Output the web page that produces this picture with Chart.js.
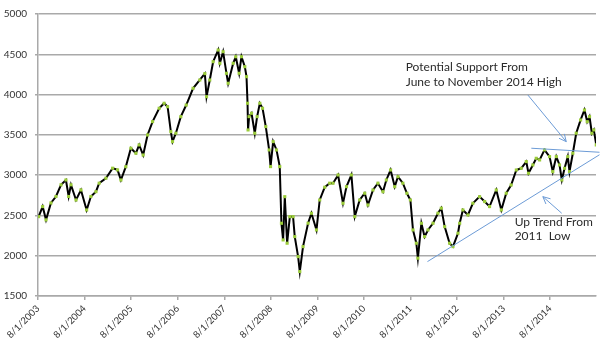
<!DOCTYPE html>
<html>
<head>
<meta charset="utf-8">
<script src="https://cdn.jsdelivr.net/npm/chart.js@4"></script>
<style>
  html, body { margin: 0; padding: 0; background: #fff; }
  #wrap { width: 600px; height: 364px; }
</style>
</head>
<body>
<div id="wrap"><canvas id="myChart" width="600" height="364"></canvas></div>
<script>
// closing prices
const dates = [
  '2003-08-06','2003-09-07','2003-10-03','2003-11-11','2003-12-20','2004-01-29','2004-03-07','2004-03-28',
  '2004-04-16','2004-05-25','2004-07-03','2004-08-17','2004-09-20','2004-10-29','2004-11-24','2005-01-16',
  '2005-03-08','2005-04-16','2005-05-12','2005-06-20','2005-07-29','2005-09-08','2005-10-03','2005-11-04',
  '2005-12-08','2006-01-17','2006-03-08','2006-04-16','2006-05-13','2006-06-08','2006-06-21','2006-07-17',
  '2006-08-25','2006-10-07','2006-11-30','2007-01-22','2007-03-01','2007-03-14','2007-04-09','2007-05-05',
  '2007-06-14','2007-06-27','2007-07-22','2007-08-18','2007-09-01','2007-10-10','2007-10-30','2007-11-26',
  '2007-12-14','2008-01-10','2008-01-23','2008-01-31','2008-02-05','2008-02-13','2008-03-02','2008-03-27',
  '2008-04-15','2008-05-06','2008-05-27','2008-06-22','2008-07-18','2008-07-29','2008-08-19','2008-09-15',
  '2008-10-10','2008-10-23','2008-11-06','2008-11-19','2008-12-07','2008-12-28','2009-01-23','2009-02-06',
  '2009-03-02','2009-03-15','2009-04-10','2009-05-19','2009-06-15','2009-07-24','2009-08-19','2009-09-28',
  '2009-11-06','2009-12-02','2010-01-11','2010-02-19','2010-03-16','2010-04-24','2010-05-20','2010-06-28',
  '2010-08-07','2010-09-02','2010-10-11','2010-11-19','2010-12-28','2011-01-24','2011-02-27','2011-03-29',
  '2011-04-24','2011-06-02','2011-07-03','2011-07-30','2011-08-20','2011-09-16','2011-09-28','2011-10-25',
  '2011-11-20','2011-12-16','2012-01-25','2012-03-03','2012-03-29','2012-04-25','2012-06-03','2012-06-29',
  '2012-08-08','2012-08-21','2012-09-16','2012-10-25','2012-12-03','2013-01-25','2013-03-04','2013-04-12',
  '2013-06-04','2013-07-13','2013-08-21','2013-09-29','2013-11-09','2013-12-17','2014-01-26','2014-02-13',
  '2014-03-17','2014-04-13','2014-05-09','2014-06-17','2014-07-26','2014-08-21','2014-09-18','2014-10-13',
  '2014-11-01','2014-11-22','2014-12-17','2014-12-30','2015-01-26','2015-02-22','2015-03-26','2015-04-26',
  '2015-05-17','2015-06-05','2015-06-23','2015-07-08','2015-07-27'
];
const closes = [
  2485,2610,2445,2655,2735,2880,2940,2735,
  2880,2692,2816,2568,2735,2795,2900,2962,
  3086,3065,2940,3105,3334,3272,3375,3250,
  3499,3664,3830,3892,3850,3540,3416,3520,
  3726,3870,4078,4181,4260,3974,4181,4408,
  4553,4388,4532,4264,4140,4388,4470,4264,
  4470,4346,4222,3892,3561,3726,3768,3520,
  3726,3892,3830,3602,3313,3106,3416,3313,
  3106,2403,2196,2733,2155,2485,2485,2237,
  1989,1803,2113,2403,2527,2320,2692,2850,
  2900,2900,3002,2651,2857,3002,2485,2692,
  2775,2630,2816,2900,2795,2940,3064,2857,
  2981,2900,2775,2692,2320,2155,1969,2403,
  2237,2320,2403,2527,2590,2361,2155,2113,
  2279,2403,2568,2506,2651,2733,2672,2610,
  2816,2568,2775,2878,3064,3085,3168,3023,
  3127,3209,3189,3313,3230,3044,3230,3127,
  2940,3085,3230,3044,3272,3520,3685,3809,
  3664,3726,3520,3561,3375
];

const tickLabels = ['8/1/2003','8/1/2004','8/1/2005','8/1/2006','8/1/2007','8/1/2008',
                    '8/1/2009','8/1/2010','8/1/2011','8/1/2012','8/1/2013','8/1/2014'];

// drawn trend lines and arrows, [date, value] ends
const supportLine = [['2014-03-05', 3334], ['2015-08-22', 3284]];
const upTrendLine = [['2011-12-12', 1927], ['2015-08-22', 3253]];
const arrows = [
  [['2014-02-08', 3995], ['2014-12-05', 3416]],
  [['2014-10-30', 2527], ['2014-06-04', 2733]]
];
const notes = [
  { at: ['2011-06-24', 4346], text: 'Potential Support From' },
  { at: ['2011-06-24', 4153], text: 'June to November 2014 High' },
  { at: ['2013-10-26', 2423], text: 'Up Trend From' },
  { at: ['2013-10-26', 2246], text: '2011  Low' }
];

// months since 8/1/2003
function toMonths(s) {
  const p = s.split('-').map(Number);
  return (p[0] - 2003) * 12 + (p[1] - 8) + (p[2] - 1) / 30;
}

const points = dates.map((d, i) => ({ x: toMonths(d), y: closes[i] }));
const gridGray = '#a9a9a9';

const notesPlugin = {
  id: 'notes',
  afterDatasetsDraw(chart) {
    const ctx = chart.ctx;
    const xs = chart.scales.x, ys = chart.scales.y;
    const px = p => [xs.getPixelForValue(toMonths(p[0])), ys.getPixelForValue(p[1])];
    ctx.save();
    ctx.strokeStyle = '#6c9bd6';
    ctx.lineWidth = 1;
    [supportLine, upTrendLine].forEach(l => {
      const a = px(l[0]), b = px(l[1]);
      ctx.beginPath(); ctx.moveTo(a[0], a[1]); ctx.lineTo(b[0], b[1]); ctx.stroke();
    });
    arrows.forEach(l => {
      const a = px(l[0]), b = px(l[1]);
      ctx.beginPath(); ctx.moveTo(a[0], a[1]); ctx.lineTo(b[0], b[1]); ctx.stroke();
      const ang = Math.atan2(b[1] - a[1], b[0] - a[0]);
      ctx.beginPath();
      ctx.moveTo(b[0] - 8 * Math.cos(ang - 0.45), b[1] - 8 * Math.sin(ang - 0.45));
      ctx.lineTo(b[0], b[1]);
      ctx.lineTo(b[0] - 8 * Math.cos(ang + 0.45), b[1] - 8 * Math.sin(ang + 0.45));
      ctx.stroke();
    });
    ctx.fillStyle = '#2b2b2b';
    ctx.font = '12px Lato';
    ctx.textBaseline = 'middle';
    ctx.textAlign = 'left';
    notes.forEach(n => {
      const p = px(n.at);
      ctx.fillText(n.text, p[0], p[1]);
    });
    ctx.restore();
  }
};

const config = {
  type: 'line',
  data: {
    datasets: [{
      label: 'Close',
      data: points,
      borderColor: '#000',
      borderWidth: 2,
      pointRadius: 2.2,
      pointStyle: 'rect',
      pointBackgroundColor: '#9bcc3a',
      pointBorderColor: '#9bcc3a',
      pointBorderWidth: 0,
      tension: 0
    }]
  },
  options: {
    responsive: false,
    animation: false,
    layout: { padding: { top: 14, right: 4, left: 0, bottom: 0 } },
    plugins: { legend: { display: false }, tooltip: { enabled: false } },
    scales: {
      x: {
        type: 'linear',
        min: 0,
        max: 143.8,
        afterBuildTicks: s => { s.ticks = tickLabels.map((t, i) => ({ value: i * 12 })); },
        afterFit: s => { s.height = 68; },
        ticks: {
          autoSkip: false,
          minRotation: 45,
          maxRotation: 45,
          padding: 3,
          color: '#333',
          font: { family: 'Lato', size: 9.5 },
          callback: (v) => tickLabels[Math.round(v / 12)]
        },
        grid: { drawOnChartArea: false, drawTicks: true, tickLength: 4, color: gridGray, lineWidth: 1.5 },
        border: { color: gridGray, width: 1.5 }
      },
      y: {
        min: 1500,
        max: 5000,
        afterFit: s => { s.width = 38; },
        ticks: {
          stepSize: 500,
          padding: 8,
          color: '#333',
          font: { family: 'Lato', size: 10 },
          callback: v => String(v)
        },
        grid: { color: gridGray, lineWidth: 1.5, tickLength: 3 },
        border: { color: gridGray, width: 1.5 }
      }
    }
  },
  plugins: [notesPlugin]
};

const myChart = new Chart(document.getElementById('myChart'), config);
</script>
</body>
</html>
